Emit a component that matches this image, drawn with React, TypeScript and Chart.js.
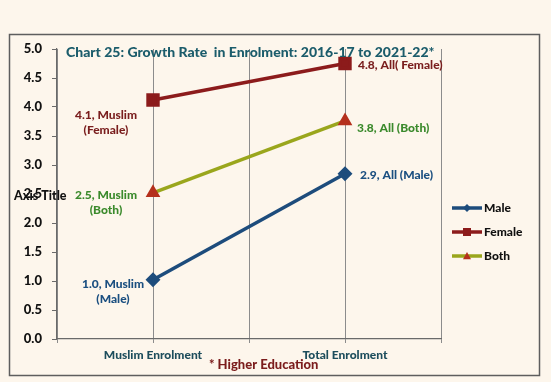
import React, { useEffect, useRef } from 'react';
import { Chart, registerables } from 'chart.js';

Chart.register(...registerables);

const categories = ['Muslim Enrolment', 'Total Enrolment'];
const seriesNames = ['Male', 'Female', 'Both'];
const maleValues = [1.02, 2.85];
const femaleValues = [4.12, 4.75];
const bothValues = [2.52, 3.76];
const maleLabels = [['1.0, Muslim', '(Male)'], ['2.9, All (Male)']];
const femaleLabels = [['4.1, Muslim', '(Female)'], ['4.8, All( Female)']];
const bothLabels = [['2.5, Muslim', '(Both)'], ['3.8, All (Both)']];
const yMin = 0;
const yMax = 5;
const yStep = 0.5;
const titleText = 'Chart 25: Growth Rate  in Enrolment: 2016-17 to 2021-22*';
const footerText = '* Higher Education';
const axisTitleText = 'Axis Title';

const FONT = 'Lato, "DejaVu Sans", sans-serif';
const W = '900';
const BG = '#fdf6ec';

const catX = (i: number) => 1 + 2 * i;

function drawMarker(ctx: CanvasRenderingContext2D, style: string, x: number, y: number, r: number, color: string) {
  ctx.save();
  ctx.fillStyle = color;
  ctx.beginPath();
  if (style === 'rectRot') {
    ctx.moveTo(x, y - r);
    ctx.lineTo(x + r, y);
    ctx.lineTo(x, y + r);
    ctx.lineTo(x - r, y);
  } else if (style === 'rect') {
    ctx.rect(x - r, y - r, 2 * r, 2 * r);
  } else {
    ctx.moveTo(x, y - r);
    ctx.lineTo(x + r, y + r * 0.8);
    ctx.lineTo(x - r, y + r * 0.8);
  }
  ctx.closePath();
  ctx.fill();
  ctx.restore();
}

const labelPlacement: Record<string, { a: [number, number]; b: [number, number] }> = {
  Male: { a: [-40, 4], b: [15, 1] },
  Female: { a: [-47, 15], b: [13, 2] },
  Both: { a: [-47, 2], b: [12, 7] },
};

const decorPlugin = {
  id: 'decor',
  beforeDraw(chart: any) {
    const ctx = chart.ctx as CanvasRenderingContext2D;
    ctx.save();
    ctx.fillStyle = BG;
    ctx.fillRect(0, 0, chart.width, chart.height);
    ctx.strokeStyle = '#5e5e5e';
    ctx.lineWidth = 1.5;
    ctx.strokeRect(9.5, 34.5, 530, 341);
    ctx.restore();
  },
  afterDatasetsDraw(chart: any) {
    const ctx = chart.ctx as CanvasRenderingContext2D;
    ctx.save();
    chart.data.datasets.forEach((ds: any, i: number) => {
      const meta = chart.getDatasetMeta(i);
      const place = labelPlacement[ds.label];
      ctx.fillStyle = ds.labelColor;
      ctx.font = `${W} 12px ${FONT}`;
      ctx.textBaseline = 'middle';
      meta.data.forEach((pt: any, j: number) => {
        const lines: string[] = ds.labelLines[j];
        if (j === 0) {
          ctx.textAlign = 'center';
          lines.forEach((ln, k) => ctx.fillText(ln, pt.x + place.a[0], pt.y + place.a[1] + k * 15));
        } else {
          ctx.textAlign = 'left';
          lines.forEach((ln, k) => ctx.fillText(ln, pt.x + place.b[0], pt.y + place.b[1] + k * 15));
        }
      });
    });
    ctx.restore();
  },
  afterDraw(chart: any) {
    const ctx = chart.ctx as CanvasRenderingContext2D;
    ctx.save();
    ctx.textBaseline = 'middle';
    ctx.textAlign = 'left';
    ctx.fillStyle = '#1b5c6b';
    ctx.font = `${W} 14px ${FONT}`;
    ctx.fillText(titleText, 66, 52);
    ctx.fillStyle = '#111';
    ctx.font = `${W} 12.5px ${FONT}`;
    ctx.fillText(axisTitleText, 14, 196);
    ctx.fillStyle = '#7b1c1c';
    ctx.font = `${W} 13px ${FONT}`;
    ctx.fillText(footerText, 209, 365);
    const ly = [208, 232, 256];
    chart.data.datasets.forEach((ds: any, i: number) => {
      const y = ly[i];
      ctx.strokeStyle = ds.borderColor;
      ctx.lineWidth = 3.5;
      ctx.beginPath();
      ctx.moveTo(452, y);
      ctx.lineTo(482, y);
      ctx.stroke();
      drawMarker(ctx, ds.pointStyle, 467, y, 4, ds.pointBackgroundColor);
      ctx.fillStyle = '#111';
      ctx.font = `${W} 12px ${FONT}`;
      ctx.textAlign = 'left';
      ctx.fillText(ds.label, 484, y);
    });
    ctx.restore();
  },
};

export default function App() {
  const ref = useRef<HTMLCanvasElement>(null);
  useEffect(() => {
    document.body.style.margin = '0';
    const toPts = (vals: number[]) => vals.map((v, i) => ({ x: catX(i), y: v }));
    const chart = new Chart(ref.current!, {
      type: 'line',
      data: {
        datasets: [
          {
            label: seriesNames[0],
            data: toPts(maleValues),
            borderColor: '#1d4c7c',
            backgroundColor: '#1d4c7c',
            pointBackgroundColor: '#1d4c7c',
            pointBorderColor: '#1d4c7c',
            pointStyle: 'rectRot',
            pointRadius: 5,
            borderWidth: 3.5,
            labelLines: maleLabels,
            labelColor: '#1b4f80',
          } as any,
          {
            label: seriesNames[1],
            data: toPts(femaleValues),
            borderColor: '#8c1b1b',
            backgroundColor: '#8c1b1b',
            pointBackgroundColor: '#8c1b1b',
            pointBorderColor: '#8c1b1b',
            pointStyle: 'rect',
            pointRadius: 7,
            borderWidth: 3.5,
            labelLines: femaleLabels,
            labelColor: '#7a1e1e',
          } as any,
          {
            label: seriesNames[2],
            data: toPts(bothValues),
            borderColor: '#9aa61c',
            backgroundColor: '#b5301c',
            pointBackgroundColor: '#b5301c',
            pointBorderColor: '#b5301c',
            pointStyle: 'triangle',
            pointRadius: 5,
            borderWidth: 3.5,
            labelLines: bothLabels,
            labelColor: '#3b8a2c',
          } as any,
        ],
      },
      options: {
        responsive: false,
        animation: false,
        layout: { padding: { top: 49, right: 110, left: 0, bottom: 0 } },
        plugins: { legend: { display: false }, tooltip: { enabled: false }, title: { display: false } },
        scales: {
          x: {
            type: 'linear',
            min: 0,
            max: 2 * categories.length,
            afterFit: (s: any) => { s.height = 43; },
            afterBuildTicks: (s: any) => {
              const t = [];
              for (let v = 0; v <= 2 * categories.length; v++) t.push({ value: v });
              s.ticks = t;
            },
            ticks: {
              autoSkip: false,
              maxRotation: 0,
              padding: 5,
              color: '#1d4d5c',
              font: { family: FONT, size: 12, weight: W },
              callback: (v: any) => {
                const idx = (Number(v) - 1) / 2;
                return Number.isInteger(idx) && categories[idx] ? categories[idx] : '';
              },
            },
            grid: { color: '#8c8c8c', lineWidth: 1, tickLength: 4 },
            border: { color: '#6a6a6a', width: 1.2 },
          },
          y: {
            type: 'linear',
            min: yMin,
            max: yMax,
            afterFit: (s: any) => { s.width = 57; },
            ticks: {
              stepSize: yStep,
              padding: 10,
              color: '#111',
              font: { family: FONT, size: 13, weight: W },
              callback: (v: any) => Number(v).toFixed(1),
            },
            grid: { drawOnChartArea: false, drawTicks: true, tickLength: 5, color: '#6a6a6a' },
            border: { color: '#6a6a6a', width: 1.2 },
          },
        },
      } as any,
      plugins: [decorPlugin],
    });
    return () => chart.destroy();
  }, []);
  return <canvas ref={ref} width={551} height={382} style={{ display: 'block' }} />;
}
